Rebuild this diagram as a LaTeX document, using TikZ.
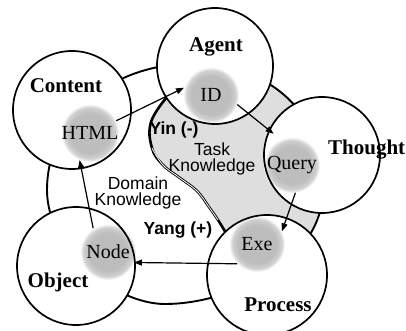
\documentclass[tikz,border=0pt]{standalone}
\usepackage{fontspec}
\setmainfont{Liberation Serif}
\newfontfamily\labelsans{Liberation Sans}
\usetikzlibrary{arrows.meta}

\definecolor{yingray}{gray}{0.87}
\definecolor{blobgray}{gray}{0.74}
\pgfdeclareradialshading{blobshade}{\pgfpoint{0bp}{0bp}}{%
  color(0bp)=(blobgray); color(17bp)=(blobgray);
  color(22bp)=(blobgray!70!white); color(25bp)=(white); color(50bp)=(white)}

\pgfdeclarelayer{yinlayer}
\pgfdeclarelayer{disclayer}
\pgfdeclarelayer{bloblayer}
\pgfsetlayers{yinlayer,disclayer,bloblayer,main}

\tikzset{
  realm/.style={circle, draw, line width=1.7pt, inner sep=0pt, outer sep=0pt, minimum size=#1},
  blob/.style={circle, shade, shading=blobshade, inner sep=0pt, outer sep=0pt,
    minimum size=56pt, font=\fontsize{20}{20}\selectfont},
  realmname/.style={font=\bfseries\fontsize{21}{21}\selectfont, inner sep=0pt, anchor=base},
  sanslabel/.style={font=\labelsans\fontsize{17.5}{16.5}\selectfont, inner sep=0pt, align=center},
  sansbold/.style={font=\labelsans\bfseries\fontsize{17.5}{16.5}\selectfont, inner sep=0pt, anchor=base},
  flow/.style={line width=1.2pt, -{Triangle[length=8pt,width=6pt]}},
  ring/.style={line width=1.9pt},
}

\begin{document}
\begin{tikzpicture}[x=1pt, y=-1pt]
\useasboundingbox (0,0) rectangle (406,331);

% the five realms
\node[realm=118pt] (content) at (72,110) {};
\node[realm=116pt] (agent)   at (215,66) {};
\node[realm=116pt] (thought) at (322,155) {};
\node[realm=118pt] (object)  at (76,266) {};
\node[realm=120pt] (process) at (267,275) {};

% white discs hide the ring and the shading behind each realm
\begin{pgfonlayer}{disclayer}
  \foreach \n/\r in {content/59, agent/58, thought/58, object/59, process/60}
    \fill[white] (\n.center) circle (\r pt);
\end{pgfonlayer}

% central ring with its yin half shaded, split by the S curve
\begin{pgfonlayer}{yinlayer}
  \begin{scope}
    \clip plot[smooth, tension=0.7] coordinates {(167,97) (151,122) (152,148) (163,165)
      (180,178) (197,191) (209,207) (218,220) (226,233)}
      -- (240,400) -- (450,400) -- (450,-20) -- (167,-20) -- cycle;
    \fill[yingray] (47,190) .. controls (47,130) and (91,87.5) .. (139,72)
      .. controls (191,55) and (249,65) .. (283,94)
      .. controls (321,126.5) and (335.5,177) .. (316,223)
      .. controls (296.5,269) and (225,304) .. (165,304)
      .. controls (115,304) and (47,250) .. (47,190) -- cycle;
  \end{scope}
  \draw[ring] (47,190) .. controls (47,130) and (91,87.5) .. (139,72)
      .. controls (191,55) and (249,65) .. (283,94)
      .. controls (321,126.5) and (335.5,177) .. (316,223)
      .. controls (296.5,269) and (225,304) .. (165,304)
      .. controls (115,304) and (47,250) .. (47,190) -- cycle;
  \draw[line width=2.6pt] plot[smooth, tension=0.7] coordinates {(167,97) (151,122) (152,148)
      (163,165) (180,178) (197,191) (209,207) (218,220) (226,233)};
  \draw[white, line width=0.8pt] plot[smooth, tension=0.7] coordinates {(152,148)
      (163,165) (180,178) (197,191) (209,207) (218,220)};
\end{pgfonlayer}

% knowledge items
\begin{pgfonlayer}{bloblayer}
  \node[blob] (htmlblob)  at (90,133)  {HTML};
  \node[blob] (idblob)    at (211,95)  {ID};
  \node[blob] (queryblob) at (292,165) {Query};
  \node[blob] (exeblob)   at (257,244) {Exe};
  \node[blob] (nodeblob)  at (108,252) {Node};
\end{pgfonlayer}

% realm names
\node[realmname] (contentname) at (66,93) {Content};
\node[realmname] (agentname) at (216,52) {Agent};
\node[realmname, anchor=base west] (thoughtname) at (328,154) {Thought};
\node[realmname] (objectname) at (58,287) {Object};
\node[realmname] (processname) at (278,311) {Process};

% yin / yang annotations
\node[sansbold] (yin) at (174,135) {Yin (-)};
\node[sanslabel] (task) at (212,159) {Task\\Knowledge};
\node[sanslabel] (domain) at (138,193) {Domain\\Knowledge};
\node[sansbold] (yang) at (178,234.5) {Yang (+)};

% cycle of items
\draw[flow] (htmlblob.25) -- (idblob.165);
\draw[flow, shorten >=9pt] (idblob.-20) -- (queryblob.114);
\draw[flow] (queryblob.-83) -- (exeblob.27);
\draw[flow] (exeblob.225) -- (nodeblob.-22);
\draw[flow] (nodeblob.122) -- (htmlblob.249);
\end{tikzpicture}
\end{document}
